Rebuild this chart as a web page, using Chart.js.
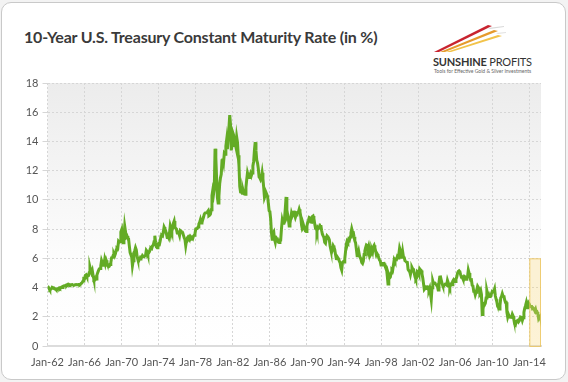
<!DOCTYPE html>
<html lang="en">
<head>
    <meta charset="UTF-8">
    <title>10-Year U.S. Treasury Constant Maturity Rate</title>
    <script src="https://cdn.jsdelivr.net/npm/chart.js"></script>
    <style>
        body {
            margin: 0;
            width: 568px;
            height: 382px;
            background: #f3f3f3;
            font-family: Lato, sans-serif;
            overflow: hidden;
        }

        #card {
            position: absolute;
            left: 1px;
            top: 2px;
            width: 563px;
            height: 376px;
            background: #fff;
            border: 1px solid #c9c9c9;
            border-radius: 10px;
        }

        #title {
            position: absolute;
            left: 24px;
            top: 27px;
            font-size: 16px;
            font-weight: bold;
            letter-spacing: -0.2px;
            color: #3a3a3a;
            white-space: nowrap;
        }

        #logo {
            position: absolute;
            left: 420px;
            top: 18px;
            width: 130px;
            height: 60px;
        }

        #logo .name {
            position: absolute;
            left: 13px;
            top: 37px;
            font-size: 11px;
            color: #333;
            white-space: nowrap;
            letter-spacing: -0.2px;
        }

        #logo .tag {
            position: absolute;
            left: 14px;
            top: 50px;
            font-size: 5px;
            color: #666;
            white-space: nowrap;
        }

        canvas {
            position: absolute;
            left: 0;
            top: 0;
        }
    </style>
</head>
<body>
    <div id="card"></div>
    <div id="title">10-Year U.S. Treasury Constant Maturity Rate (in %)</div>
    <div id="logo">
        <svg width="130" height="40" style="position:absolute;left:0;top:0">
            <polygon points="14,34 68,7 72,8 19,34" fill="#c8242f"/>
            <polygon points="20,34 74,12 78,13 25,34" fill="#e59a2c"/>
            <polygon points="26,34 78,17 82,18 31,34" fill="#f2c34a"/>
            <polygon points="68,10 84,8 84,9 70,11" fill="#d9d9d9"/>
            <polygon points="76,15 86,14 86,15 78,16" fill="#e2e2e2"/>
        </svg>
        <div class="name"><b>SUNSHINE</b> PROFITS</div>
        <div class="tag">Tools for Effective Gold &amp; Silver Investments</div>
    </div>
    <canvas id="chart" width="568" height="382"></canvas>

    <script>
        const firstYear = 1962;
        const tickYears = [1962, 1966, 1970, 1974, 1978, 1982, 1986, 1990, 1994, 1998, 2002, 2006, 2010, 2014];
        const tickLabels = ['Jan-62', 'Jan-66', 'Jan-70', 'Jan-74', 'Jan-78', 'Jan-82', 'Jan-86',
            'Jan-90', 'Jan-94', 'Jan-98', 'Jan-02', 'Jan-06', 'Jan-10', 'Jan-14'];
        const highlight = { from: 2014, to: 2015.26, top: 6 };

        // monthly rates, one row per year
        const rates1960s = [
            4.08, 4.04, 3.93, 3.84, 3.87, 3.91, 4.01, 3.98, 3.98, 3.93, 3.92, 3.86,
            3.83, 3.92, 3.93, 3.97, 3.93, 3.99, 4.02, 4.00, 4.08, 4.11, 4.12, 4.13,
            4.17, 4.15, 4.22, 4.23, 4.20, 4.17, 4.19, 4.19, 4.20, 4.19, 4.15, 4.18,
            4.19, 4.21, 4.21, 4.20, 4.21, 4.21, 4.20, 4.25, 4.29, 4.35, 4.45, 4.62,
            4.61, 4.83, 4.87, 4.75, 4.78, 4.81, 5.02, 5.40, 5.18, 5.01, 5.16, 4.84,
            4.58, 4.63, 4.54, 4.59, 4.85, 5.02, 5.16, 5.28, 5.30, 5.48, 5.85, 5.70,
            5.53, 5.56, 5.90, 5.64, 5.87, 5.72, 5.50, 5.42, 5.46, 5.58, 5.70, 6.03,
            6.04, 6.19, 6.30, 6.17, 6.32, 6.57, 6.72, 6.69, 7.16, 7.10, 7.14, 7.80
        ];
        const rates1970s = [
            7.95, 7.24, 7.07, 7.39, 8.20, 7.84, 7.46, 7.53, 7.39, 7.33, 6.84, 6.39,
            6.24, 6.11, 5.50, 5.83, 6.39, 6.52, 6.73, 6.58, 6.14, 5.93, 5.81, 5.93,
            5.95, 6.08, 6.07, 6.19, 6.13, 6.11, 6.11, 6.21, 6.55, 6.48, 6.28, 6.36,
            6.46, 6.64, 6.71, 6.67, 6.85, 6.90, 7.13, 7.55, 7.09, 6.79, 6.73, 6.74,
            6.99, 6.96, 7.21, 7.51, 7.58, 7.54, 7.81, 8.15, 8.04, 7.90, 7.68, 7.43,
            7.50, 7.39, 7.73, 8.23, 8.06, 7.86, 8.06, 8.40, 8.55, 8.14, 8.05, 8.00,
            7.74, 7.79, 7.73, 7.56, 7.90, 7.86, 7.83, 7.77, 7.59, 7.41, 7.29, 6.87,
            7.21, 7.39, 7.46, 7.37, 7.46, 7.28, 7.33, 7.40, 7.34, 7.52, 7.58, 7.69,
            8.01, 8.03, 8.04, 8.15, 8.35, 8.46, 8.64, 8.41, 8.42, 8.64, 8.81, 9.01,
            9.10, 9.10, 9.12, 9.18, 9.25, 8.91, 8.95, 9.03, 9.33, 10.30, 10.65, 10.39
        ];
        const rates1980s = [
            10.80, 13.50, 12.90, 11.47, 10.18, 9.78, 10.25, 11.10, 11.51, 11.75, 12.68, 12.84,
            12.57, 13.19, 13.12, 13.68, 14.10, 13.47, 14.28, 14.94, 15.80, 15.15, 13.39, 13.72,
            14.59, 14.43, 13.86, 13.87, 13.62, 14.30, 13.95, 13.06, 12.34, 10.91, 10.55, 10.54,
            10.46, 10.72, 10.51, 10.40, 10.38, 10.85, 11.38, 11.85, 11.65, 11.54, 11.69, 11.83,
            11.67, 11.84, 12.32, 12.63, 13.41, 13.95, 13.36, 12.72, 12.52, 12.16, 11.57, 11.50,
            11.38, 11.51, 11.86, 11.43, 10.85, 10.16, 10.31, 10.33, 10.37, 10.24, 9.78, 9.26,
            9.19, 8.70, 7.78, 7.30, 7.71, 7.80, 7.30, 7.10, 7.45, 7.43, 7.25, 7.11,
            7.08, 7.25, 7.25, 8.02, 8.61, 8.40, 8.45, 8.76, 9.42, 10.20, 8.86, 8.99,
            8.67, 8.21, 8.37, 8.72, 9.09, 8.92, 9.06, 9.26, 8.98, 8.80, 8.96, 9.11,
            9.09, 9.17, 9.36, 9.18, 8.86, 8.28, 8.02, 8.11, 8.19, 8.01, 7.87, 7.84
        ];
        const rates1990s = [
            8.21, 8.47, 8.59, 8.79, 8.76, 8.48, 8.47, 8.85, 8.89, 8.72, 8.39, 8.08,
            8.09, 7.85, 8.11, 8.04, 8.07, 8.28, 8.27, 7.90, 7.65, 7.53, 7.42, 7.09,
            7.03, 7.34, 7.54, 7.48, 7.39, 7.26, 6.84, 6.59, 6.42, 6.59, 6.87, 6.77,
            6.60, 6.26, 5.98, 5.97, 6.04, 5.96, 5.81, 5.68, 5.36, 5.20, 5.72, 5.77,
            5.75, 5.97, 6.48, 6.97, 7.18, 7.10, 7.30, 7.24, 7.46, 7.74, 8.02, 7.81,
            7.78, 7.47, 7.20, 7.06, 6.63, 6.17, 6.28, 6.49, 6.20, 6.04, 5.93, 5.71,
            5.65, 5.81, 6.27, 6.51, 6.74, 6.91, 6.87, 6.64, 6.83, 6.53, 6.20, 6.30,
            6.58, 6.42, 6.80, 6.89, 6.71, 6.49, 6.22, 6.30, 6.21, 6.03, 5.88, 5.81,
            5.54, 5.57, 5.65, 5.64, 5.65, 5.50, 5.46, 5.34, 4.81, 4.25, 4.83, 4.65,
            4.72, 5.00, 5.23, 5.18, 5.54, 5.90, 5.79, 5.94, 5.92, 6.11, 6.03, 6.28
        ];
        const rates2000s = [
            6.70, 6.52, 6.26, 5.99, 6.44, 6.10, 6.05, 5.83, 5.80, 5.74, 5.72, 5.24,
            5.16, 5.10, 4.89, 5.14, 5.39, 5.28, 5.24, 4.97, 4.73, 4.57, 4.65, 5.09,
            5.04, 4.91, 5.28, 5.21, 5.16, 4.93, 4.65, 4.26, 3.87, 3.94, 4.05, 4.03,
            4.05, 3.90, 3.81, 3.96, 3.57, 3.18, 3.98, 4.45, 4.27, 4.29, 4.30, 4.27,
            4.15, 4.08, 3.83, 4.35, 4.72, 4.73, 4.50, 4.28, 4.13, 4.10, 4.19, 4.23,
            4.22, 4.17, 4.50, 4.34, 4.14, 4.00, 4.18, 4.26, 4.20, 4.46, 4.54, 4.47,
            4.42, 4.57, 4.72, 4.99, 5.11, 5.15, 5.09, 4.88, 4.72, 4.73, 4.60, 4.56,
            4.76, 4.72, 4.56, 4.69, 4.75, 5.20, 5.00, 4.67, 4.52, 4.53, 4.15, 4.10,
            3.74, 3.74, 3.51, 3.68, 3.88, 4.10, 4.01, 3.89, 3.69, 3.81, 3.53, 2.15,
            2.52, 2.87, 2.82, 2.93, 3.29, 3.80, 3.56, 3.59, 3.40, 3.39, 3.40, 3.59
        ];
        const rates2010s = [
            3.73, 3.69, 3.73, 3.90, 3.42, 3.20, 3.01, 2.70, 2.65, 2.54, 2.76, 3.29,
            3.39, 3.58, 3.41, 3.46, 3.17, 3.00, 3.00, 2.30, 1.98, 2.15, 2.01, 1.98,
            1.97, 1.97, 2.17, 2.05, 1.80, 1.50, 1.45, 1.68, 1.72, 1.75, 1.65, 1.72,
            1.91, 1.98, 1.96, 1.76, 1.93, 2.30, 2.58, 2.74, 2.95, 2.62, 2.72, 2.95,
            2.86, 2.71, 2.72, 2.71, 2.56, 2.60, 2.54, 2.42, 2.53, 2.30, 2.33, 2.21,
            1.88, 1.98, 2.04, 1.80
        ];

        const allRates = [].concat(rates1960s, rates1970s, rates1980s, rates1990s, rates2000s, rates2010s);
        const points = allRates.map((v, i) => ({ x: firstYear + i / 12, y: v }));

        const backdrop = {
            id: 'backdrop',
            beforeDraw(chart) {
                const { ctx, chartArea: a } = chart;
                const g = ctx.createLinearGradient(0, a.top, 0, a.bottom);
                g.addColorStop(0, '#ececec');
                g.addColorStop(0.65, '#fcfcfc');
                g.addColorStop(1, '#ffffff');
                ctx.save();
                ctx.fillStyle = g;
                ctx.fillRect(a.left, a.top, a.right - a.left, a.bottom - a.top);
                ctx.restore();
            },
            afterDatasetsDraw(chart) {
                const { ctx, scales: { x, y } } = chart;
                const l = x.getPixelForValue(highlight.from);
                const r = x.getPixelForValue(highlight.to);
                const t = y.getPixelForValue(highlight.top);
                const b = y.getPixelForValue(0);
                ctx.save();
                ctx.fillStyle = 'rgba(250, 215, 120, 0.3)';
                ctx.strokeStyle = 'rgba(235, 195, 90, 0.8)';
                ctx.lineWidth = 1;
                ctx.fillRect(l, t, r - l, b - t);
                ctx.strokeRect(l + 0.5, t + 0.5, r - l - 1, b - t);
                ctx.restore();
            }
        };

        new Chart(document.getElementById('chart'), {
            type: 'line',
            data: {
                datasets: [{
                    label: '10-Year Treasury',
                    data: points,
                    borderColor: '#63ab25',
                    borderWidth: 3,
                    pointRadius: 0,
                    tension: 0,
                    fill: false
                }]
            },
            options: {
                responsive: false,
                animation: false,
                layout: { padding: { top: 83, right: 27, left: 0, bottom: 0 } },
                plugins: {
                    legend: { display: false },
                    tooltip: { enabled: false }
                },
                scales: {
                    x: {
                        type: 'linear',
                        min: firstYear,
                        max: highlight.to,
                        afterBuildTicks: s => { s.ticks = tickYears.map(v => ({ value: v })); },
                        afterFit: s => { s.height = 36; },
                        ticks: {
                            autoSkip: false,
                            maxRotation: 0,
                            padding: 10,
                            color: '#555',
                            font: { family: 'Lato', size: 11 },
                            callback: v => tickLabels[tickYears.indexOf(v)]
                        },
                        grid: { color: '#d6d6d6', drawTicks: false },
                        border: { display: true, color: '#dcdcdc', width: 2, dash: [2, 2] }
                    },
                    y: {
                        min: 0,
                        max: 18,
                        afterFit: s => { s.width = 47.5; },
                        ticks: {
                            stepSize: 2,
                            padding: 4,
                            color: '#555',
                            font: { family: 'Lato', size: 11 }
                        },
                        grid: { color: '#d6d6d6', tickLength: 5 },
                        border: { display: false, dash: [2, 2] }
                    }
                }
            },
            plugins: [backdrop]
        });
    </script>
</body>
</html>
